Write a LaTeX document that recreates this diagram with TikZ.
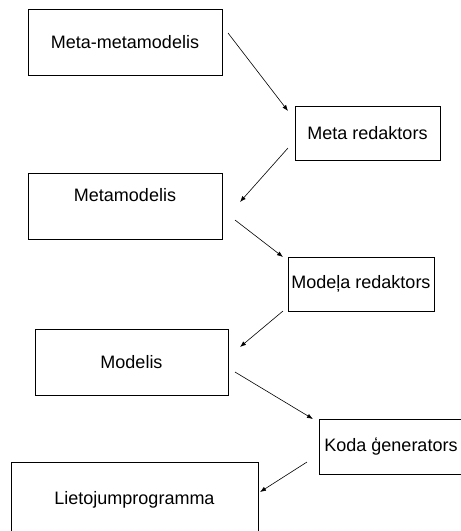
\documentclass[tikz,border=0pt]{standalone}
\usepackage{fontspec}
\setmainfont{Liberation Sans}
\usetikzlibrary{arrows.meta}
\begin{document}
\begin{tikzpicture}[x=1pt, y=-1pt, line width=0.6pt, >={Latex[length=6pt,width=4.5pt]},
  every node/.style={draw, rectangle, inner sep=0pt, font=\fontsize{18}{21}\selectfont}]
  \useasboundingbox (0,0) rectangle (461,531);

  \node[minimum width=194, minimum height=66] (mmm) at (125,42) {Meta-metamodelis};
  \node[minimum width=145, minimum height=54] (mred) at (367.5,133) {Meta redaktors};
  \node[minimum width=194, minimum height=66] (mm) at (125,206) {};
  \node[draw=none] (mmtext) at (125,195) {Metamodelis};
  \node[minimum width=146, minimum height=54] (modred) at (361,284) {Modeļa redaktors};
  \node[minimum width=193, minimum height=66] (mod) at (131.5,362) {Modelis};
  \node[minimum width=144, minimum height=55] (gen) at (391,446.5) {Koda ģenerators};
  \node[minimum width=247, minimum height=76] (app) at (134.5,500) {Lietojumprogramma};

  \coordinate (a1s) at (228,33);  \coordinate (a1e) at (288,111);
  \coordinate (a2s) at (288,148); \coordinate (a2e) at (240,202);
  \coordinate (a3s) at (235,220); \coordinate (a3e) at (283,257);
  \coordinate (a4s) at (283,311); \coordinate (a4e) at (240,347);
  \coordinate (a5s) at (235,372); \coordinate (a5e) at (313,419);
  \coordinate (a6s) at (307,462); \coordinate (a6e) at (260,492);

  \draw[->] (a1s) -- (a1e);
  \draw[->] (a2s) -- (a2e);
  \draw[->] (a3s) -- (a3e);
  \draw[->] (a4s) -- (a4e);
  \draw[->] (a5s) -- (a5e);
  \draw[->] (a6s) -- (a6e);
\end{tikzpicture}
\end{document}
